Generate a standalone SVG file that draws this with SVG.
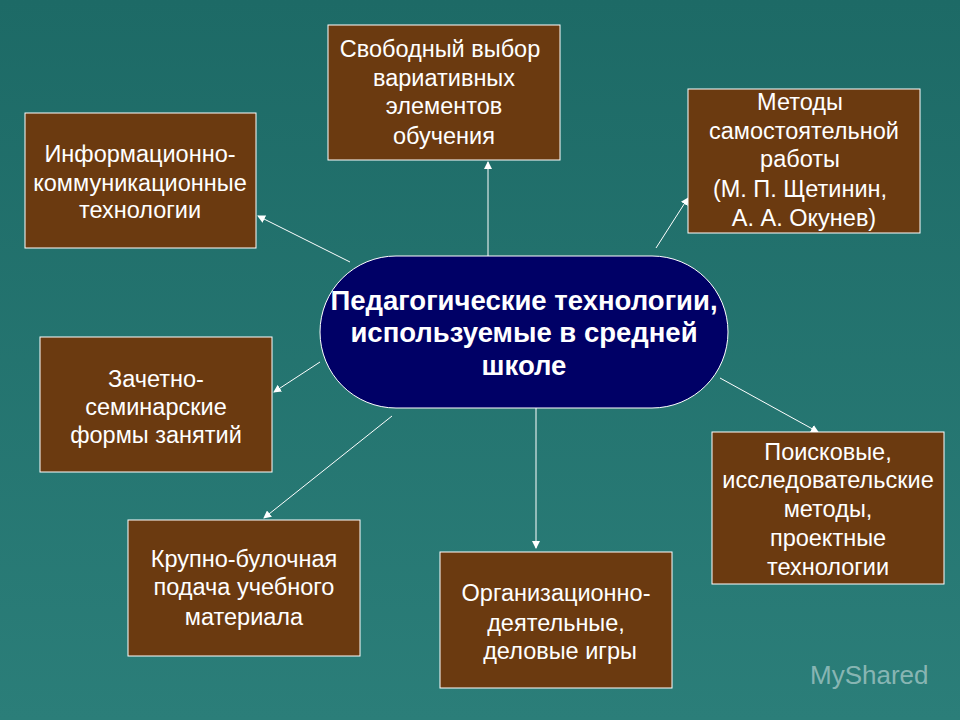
<svg xmlns="http://www.w3.org/2000/svg" width="960" height="720" viewBox="0 0 960 720">
<defs>
<linearGradient id="bg" x1="0" y1="0" x2="0" y2="1"><stop offset="0" stop-color="#1d6a66"/><stop offset="1" stop-color="#2b7e79"/></linearGradient>
<marker id="ah" markerWidth="8" markerHeight="8" refX="7" refY="4" orient="auto" markerUnits="userSpaceOnUse"><path d="M0,0 L8,4 L0,8 Z" fill="#fff"/></marker>
<style>
.box{fill:#6b3a10;stroke:#fff;stroke-width:1}
.t{font-family:"Liberation Sans",Arial,sans-serif;font-size:23.5px;fill:#fff;text-anchor:middle}
.c{font-family:"Liberation Sans",Arial,sans-serif;font-size:27.5px;font-weight:bold;fill:#fff;text-anchor:middle}
.ln{stroke:#fff;stroke-width:1;fill:none;marker-end:url(#ah)}
</style>
</defs>
<rect width="960" height="720" fill="url(#bg)"/>
<text x="810" y="684" font-family="Liberation Sans,Arial,sans-serif" font-size="26" fill="#fff" fill-opacity="0.45">MyShared</text>
<g id="connectors">
<line class="ln" x1="488" y1="256" x2="488" y2="162"/>
<line class="ln" x1="350" y1="262" x2="258" y2="216"/>
<line class="ln" x1="656" y1="248" x2="688" y2="198"/>
<line class="ln" x1="320" y1="362" x2="274" y2="392"/>
<line class="ln" x1="392" y1="416" x2="264" y2="518"/>
<line class="ln" x1="536" y1="408" x2="536" y2="548"/>
<line class="ln" x1="720" y1="378" x2="818" y2="432"/>
</g>
<g id="center"><rect x="320" y="256" width="408" height="152" rx="76" fill="#000066" stroke="#fff"/>
<text class="c"><tspan x="524" y="310">Педагогические технологии,</tspan><tspan x="524" y="342">используемые в средней</tspan><tspan x="524" y="375">школе</tspan></text></g>
<g id="top"><rect class="box" x="328" y="25" width="232" height="135"/>
<text class="t"><tspan x="440" y="57">Свободный выбор</tspan><tspan x="444" y="86">вариативных</tspan><tspan x="444" y="114">элементов</tspan><tspan x="444" y="144">обучения</tspan></text></g>
<g id="info"><rect class="box" x="25" y="113" width="231" height="135"/>
<text class="t"><tspan x="140" y="162">Информационно-</tspan><tspan x="140" y="191">коммуникационные</tspan><tspan x="140" y="218">технологии</tspan></text></g>
<g id="methods"><rect class="box" x="688" y="89" width="232" height="144"/>
<text class="t"><tspan x="800" y="110">Методы</tspan><tspan x="804" y="139">самостоятельной</tspan><tspan x="800" y="167">работы</tspan><tspan x="800" y="197">(М. П. Щетинин,</tspan><tspan x="804" y="226">А. А. Окунев)</tspan></text></g>
<g id="zach"><rect class="box" x="40" y="337" width="232" height="135"/>
<text class="t"><tspan x="156" y="387">Зачетно-</tspan><tspan x="156" y="415">семинарские</tspan><tspan x="156" y="443">формы занятий</tspan></text></g>
<g id="poisk"><rect class="box" x="712" y="432" width="232" height="152"/>
<text class="t"><tspan x="828" y="460">Поисковые,</tspan><tspan x="828" y="488">исследовательские</tspan><tspan x="828" y="517">методы,</tspan><tspan x="828" y="546">проектные</tspan><tspan x="828" y="575">технологии</tspan></text></g>
<g id="krupno"><rect class="box" x="128" y="520" width="232" height="136"/>
<text class="t"><tspan x="244" y="567">Крупно-булочная</tspan><tspan x="244" y="595">подача учебного</tspan><tspan x="244" y="625">материала</tspan></text></g>
<g id="org"><rect class="box" x="440" y="552" width="232" height="136"/>
<text class="t"><tspan x="556" y="601">Организационно-</tspan><tspan x="556" y="631">деятельные,</tspan><tspan x="560" y="659">деловые игры</tspan></text></g>
</svg>
